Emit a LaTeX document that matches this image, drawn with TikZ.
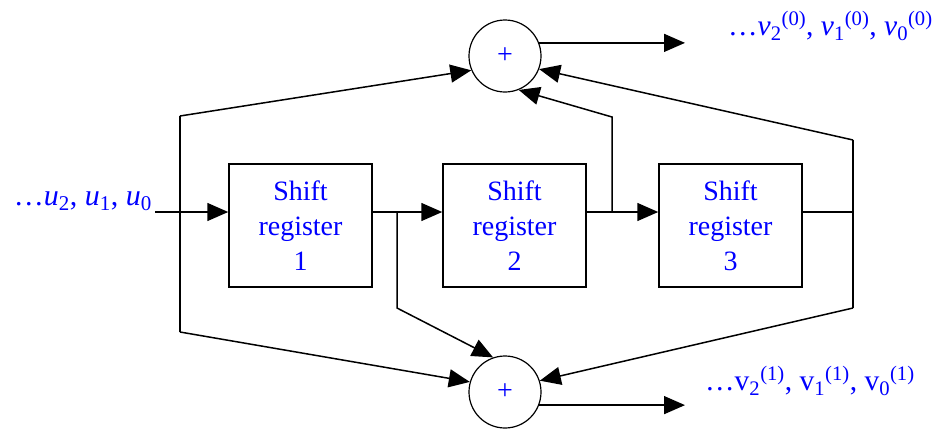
\documentclass[tikz,border=0pt]{standalone}
\usepackage{fontspec}
\setmainfont{Liberation Serif}
\usetikzlibrary{arrows.meta}
\definecolor{lblue}{RGB}{0,0,255}
\begin{document}
\begin{tikzpicture}[x=1pt,y=-1pt,
  wire/.style={line width=1.5pt},
  feed/.style={wire,-{Triangle[length=21pt,width=18pt]}},
  reg/.style={draw,line width=1.5pt,minimum width=143pt,minimum height=123pt,
    inner sep=0pt,align=center,text=lblue,font=\fontsize{28}{35}\selectfont},
  adder/.style={draw,circle,line width=1.2pt,minimum size=72pt,inner sep=0pt,
    text=lblue,font=\fontsize{28}{30}\selectfont},
  lbl/.style={text=lblue,inner sep=0pt,font=\fontsize{29.5}{32}\selectfont}]
\useasboundingbox (0,0) rectangle (938,429);

% shift registers and modulo-2 adders
\node[reg] (sr1) at (300.5,225.5) {Shift\\register\\1};
\node[reg] (sr2) at (514.5,225.5) {Shift\\register\\2};
\node[reg] (sr3) at (730.5,225.5) {Shift\\register\\3};
\node[adder] (top) at (505,56) {+};
\node[adder] (bot) at (505,392) {+};

% corner points of the feed lines
\coordinate (in) at (155,212);
\coordinate (lt) at (180,116);
\coordinate (lb) at (180,332);
\coordinate (b1) at (397,212);
\coordinate (b1d) at (397,308);
\coordinate (b2) at (612,212);
\coordinate (b2u) at (612,117);
\coordinate (rt) at (853,140);
\coordinate (rb) at (853,308);
\coordinate (out) at (685,0);

% data path through the registers
\draw[feed] (in) -- (sr1.west |- in);
\draw[feed] (sr1.east |- in) -- (sr2.west |- in);
\draw[feed] (sr2.east |- in) -- (sr3.west |- in);
\draw[wire] (sr3.east |- in) -- (rt |- in);

% taps into the adders
\draw[wire] (lt) -- (lb);
\draw[feed] (lt) -- (top.203);
\draw[feed] (lb) -- (bot.164);
\draw[feed] (b1) -- (b1d) -- (bot.109);
\draw[feed] (b2) -- (b2u) -- (top.-68);
\draw[wire] (rt) -- (rb);
\draw[feed] (rt) -- (top.-21);
\draw[feed] (rb) -- (bot.18);

% encoder outputs
\draw[feed] (top.21) -- (top.21 -| out);
\draw[feed] (bot.-21) -- (bot.-21 -| out);

% sequence labels
\node[lbl,anchor=base east,font=\fontsize{30}{32}\selectfont] (uin) at (152,205)
  {\ldots\textit{u}\textsubscript{2}, \textit{u}\textsubscript{1}, \textit{u}\textsubscript{0}};
\node[lbl,anchor=base west] (v0) at (728,35)
  {\ldots\textit{v}\textsubscript{2}\textsuperscript{(0)}, \textit{v}\textsubscript{1}\textsuperscript{(0)}, \textit{v}\textsubscript{0}\textsuperscript{(0)}};
\node[lbl,anchor=base west] (v1) at (705,390)
  {\ldots v\textsubscript{2}\textsuperscript{(1)}, v\textsubscript{1}\textsuperscript{(1)}, v\textsubscript{0}\textsuperscript{(1)}};
\end{tikzpicture}
\end{document}
